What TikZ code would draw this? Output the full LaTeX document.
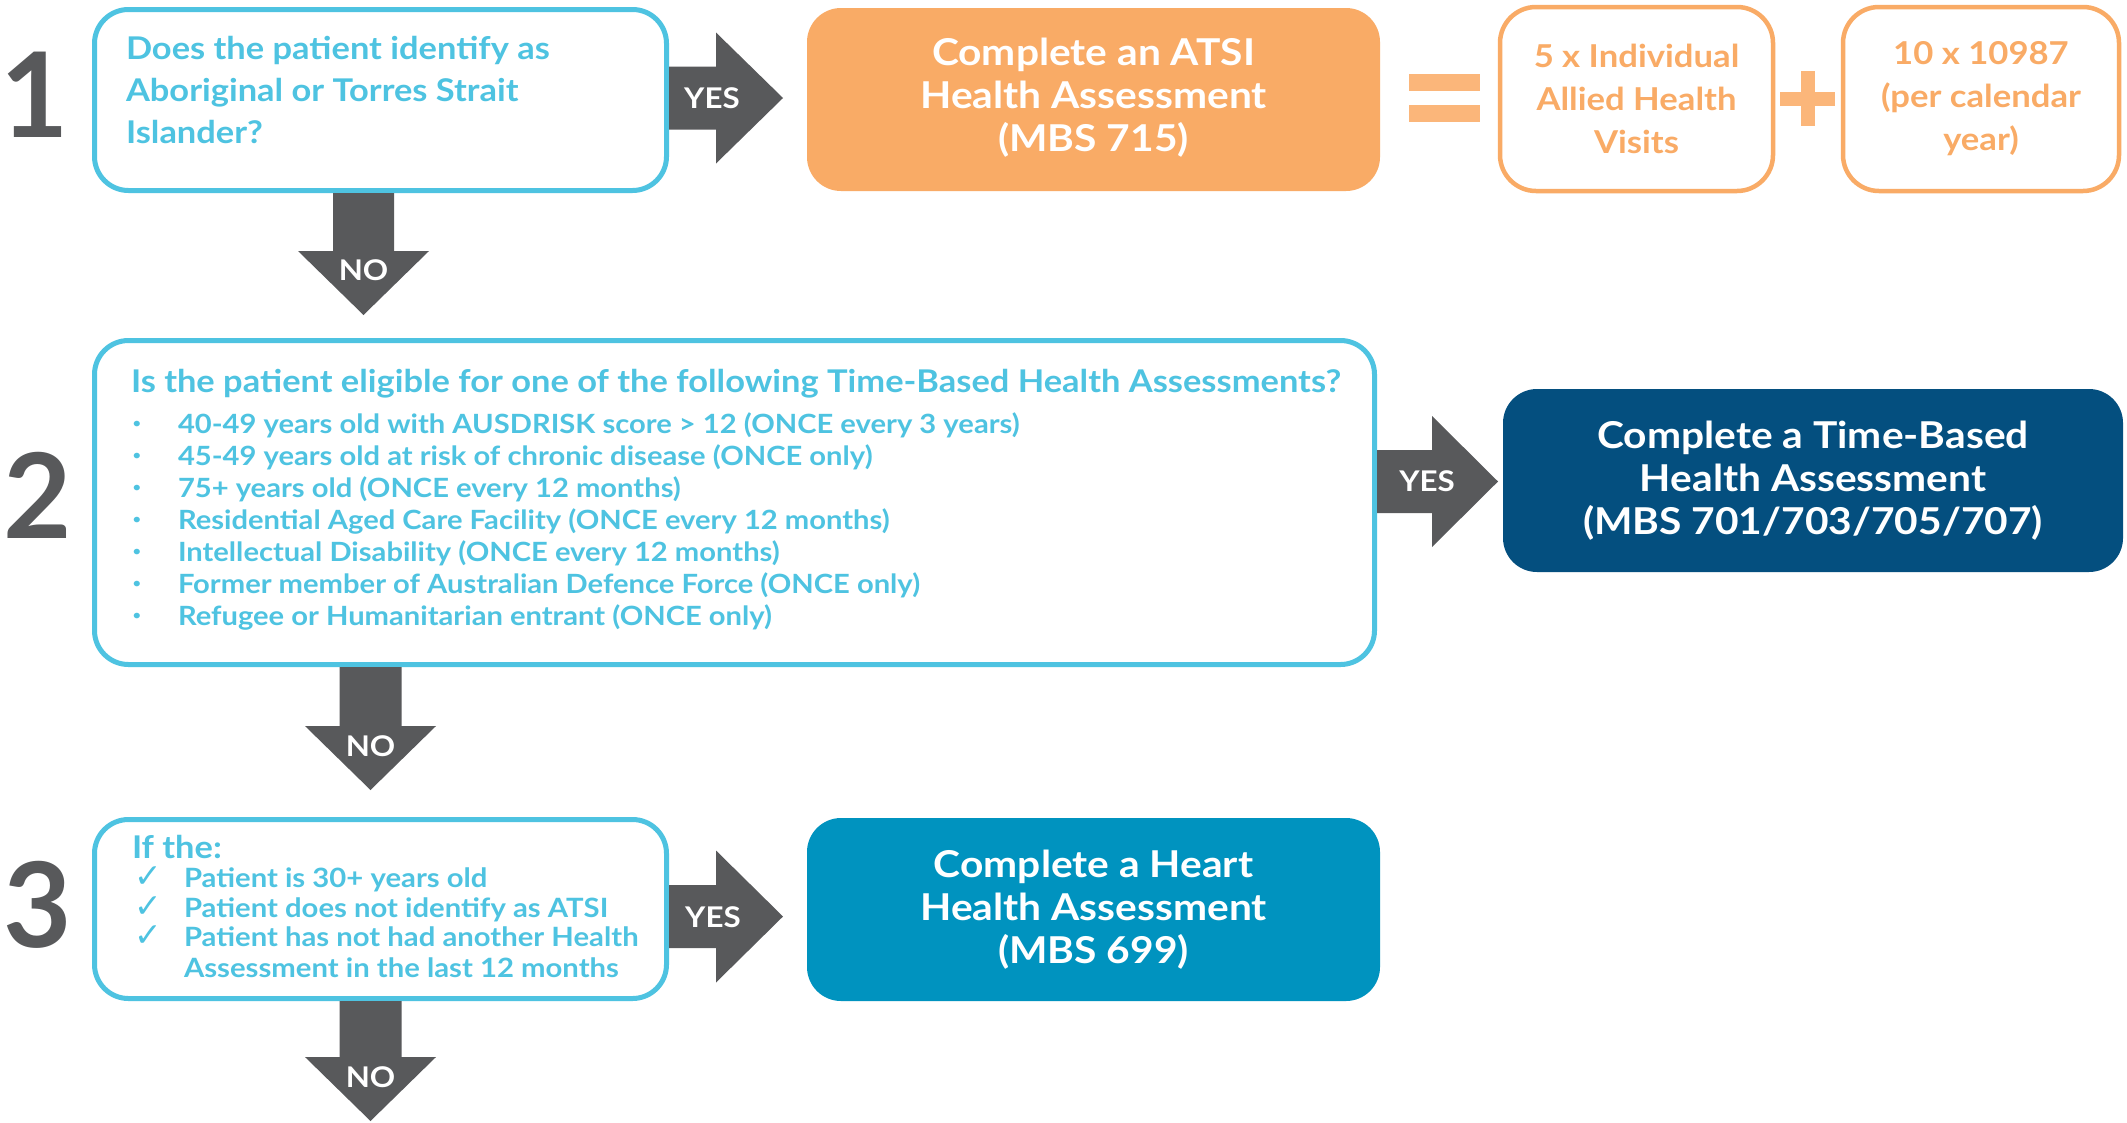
\documentclass[tikz,border=0pt]{standalone}
\usepackage{fontspec}
\setmainfont{Lato}[FakeStretch=1.1]
\newfontfamily\digitfont{Lato}
\newfontfamily\dejavu{DejaVu Sans}
\usetikzlibrary{calc}
\definecolor{cy}{HTML}{4EC3E1}
\definecolor{ag}{HTML}{58595B}
\definecolor{orf}{HTML}{F9AB66}
\definecolor{orl}{HTML}{FBB67A}
\definecolor{dblue}{HTML}{044F7F}
\definecolor{hblue}{HTML}{0093BF}
\tikzset{
  qbox/.style={draw=cy, line width=5pt, fill=white, rounded corners=34pt},
  abox/.style={rounded corners=34pt, text=white, align=center, font=\bfseries\fontsize{37}{43}\selectfont},
  obox/.style={draw=orf, line width=4.5pt, fill=white, rounded corners=36pt, text=orf, align=center, font=\bfseries\fontsize{31.5}{43}\selectfont},
  qtext/.style={anchor=base west, text=cy, font=\bfseries\fontsize{31.3}{42}\selectfont},
  ltext/.style={anchor=base west, text=cy, font=\bfseries\fontsize{26.5}{32}\selectfont},
  blt/.style={text=cy, font=\fontsize{15}{15}\selectfont},
  chk/.style={anchor=base west, text=cy, font=\dejavu\fontsize{33}{33}\selectfont},
  digit/.style={text=ag, font=\digitfont\bfseries\fontsize{118}{118}\selectfont, text width=56pt, align=center},
  alab/.style={text=white, font=\bfseries\fontsize{28.5}{28.5}\selectfont},
}
\newcommand\rblock[5]{%
  \fill[ag] (#1) ++(0,-#2) -- ++(#3,0) -- ++(0,{#2-#4}) -- ++(#5,#4) -- ++(-#5,#4) -- ++(0,{#2-#4}) -- ++(-#3,0) -- cycle;}
\newcommand\dblock[5]{%
  \fill[ag] (#1) ++(-#2,0) -- ++(0,#3) -- ++({#2-#4},0) -- ++(#4,#5) -- ++(#4,-#5) -- ++({#2-#4},0) -- ++(0,-#3) -- cycle;}
\begin{document}
\begin{tikzpicture}[x=1pt,y=-1pt, every node/.style={inner sep=0pt, outer sep=0pt}]
\useasboundingbox (0,0) rectangle (2127,1122);
\fill[white] (0,0) rectangle (2127,1122);

% step numbers
\node[digit] (n1) at (28,94.5) {1};
\node[digit] (n2) at (31,495) {2};
\node[digit] (n3) at (31,905) {3};

% boxes
\node[qbox, minimum width=572pt, minimum height=181pt] (b1) at (380.5,100) {};
\node[qbox, minimum width=1280pt, minimum height=324pt] (b2) at (734.5,502.5) {};
\node[qbox, minimum width=572pt, minimum height=179pt] (b3) at (380.5,909) {};

\node[abox, fill=orf, minimum width=573pt, minimum height=183pt] (atsi) at (1093.5,99.5)
  {\raisebox{3pt}{\begin{tabular}{@{}c@{}}Complete an ATSI\\Health Assessment\\(MBS 715)\end{tabular}}};
\node[abox, fill=dblue, minimum width=620pt, minimum height=183pt] (tb) at (1813,480.5)
  {Complete a Time-Based\\Health Assessment\\(MBS 701/703/705/707)};
\node[abox, fill=hblue, minimum width=573pt, minimum height=183pt] (heart) at (1093.5,909.5)
  {Complete a Heart\\Health Assessment\\(MBS 699)};

\node[obox, minimum width=273pt, minimum height=184pt] (ah) at (1636.5,99)
  {5 x Individual\\Allied Health\\Visits};
\node[obox, minimum width=276pt, minimum height=184pt] (cal) at (1981,99)
  {10 x 10987\\(per calendar\\year)};

% equals and plus
\fill[orl] (1409,74) rectangle (1480,91);
\fill[orl] (1409,105) rectangle (1480,122);
\fill[orl] (1780,92) rectangle (1835,106);
\fill[orl] (1800.5,71) rectangle (1814.5,126);

% box 1 text
\foreach \t [count=\i] in {Does the patient identify as, Aboriginal or Torres Strait, Islander?}
  \node[qtext] (q1l\i) at (126,{17+42*\i}) {\t};

% box 2 text
\node[qtext] (q2t) at (131,392)
  {Is the patient eligible for one of the following Time-Based Health Assessments?};
\foreach \t [count=\i] in {
  {40-49 years old with AUSDRISK score > 12 (ONCE every 3 years)},
  {45-49 years old at risk of chronic disease (ONCE only)},
  {75+ years old (ONCE every 12 months)},
  {Residential Aged Care Facility (ONCE every 12 months)},
  {Intellectual Disability (ONCE every 12 months)},
  {Former member of Australian Defence Force (ONCE only)},
  {Refugee or Humanitarian entrant (ONCE only)}} {
  \node[ltext] (q2i\i) at (178,{401+32*\i}) {\t};
  \node[blt] (q2b\i) at (137,{393+32*\i}) {•};
}

% box 3 text
\node[qtext] (q3t) at (132,858) {If the:};
\foreach \t/\yy [count=\i] in {Patient is 30+ years old/887, Patient does not identify as ATSI/917,
  Patient has not had another Health/946, Assessment in the last 12 months/977}
  \node[ltext, font=\bfseries\fontsize{26.6}{30}\selectfont] (q3i\i) at (184,\yy) {\t};
\foreach \yy [count=\i] in {887,917,946}
  \node[chk] (q3c\i) at (134,\yy) {✓};

% YES arrows
\path (b1.east) ++(2.5,-2) coordinate (r1s);
\rblock{r1s}{31.5}{47}{65.5}{67}
\node[alab] (yes1) at ($(r1s)+(43,0)$) {YES};

\path (b2.east) ++(2.5,-21) coordinate (r2s);
\rblock{r2s}{31.5}{55}{65.5}{66}
\node[alab] (yes2) at ($(r2s)+(50,0)$) {YES};

\path (b3.east) ++(2.5,7.5) coordinate (r3s);
\rblock{r3s}{31.5}{47}{66}{67}
\node[alab] (yes3) at ($(r3s)+(44,1)$) {YES};

% NO arrows
\path (b1.south) ++(-17,2.5) coordinate (d1s);
\dblock{d1s}{30.5}{58}{65.5}{64}
\node[alab] (no1) at ($(d1s)+(0,77)$) {NO};

\path (b2.south west) ++(276,2.5) coordinate (d2s);
\dblock{d2s}{31}{59}{65.5}{64}
\node[alab] (no2) at ($(d2s)+(0,79)$) {NO};

\path (b3.south) ++(-10,2.5) coordinate (d3s);
\dblock{d3s}{31}{56}{65.5}{64}
\node[alab] (no3) at ($(d3s)+(0,76)$) {NO};
\end{tikzpicture}
\end{document}
